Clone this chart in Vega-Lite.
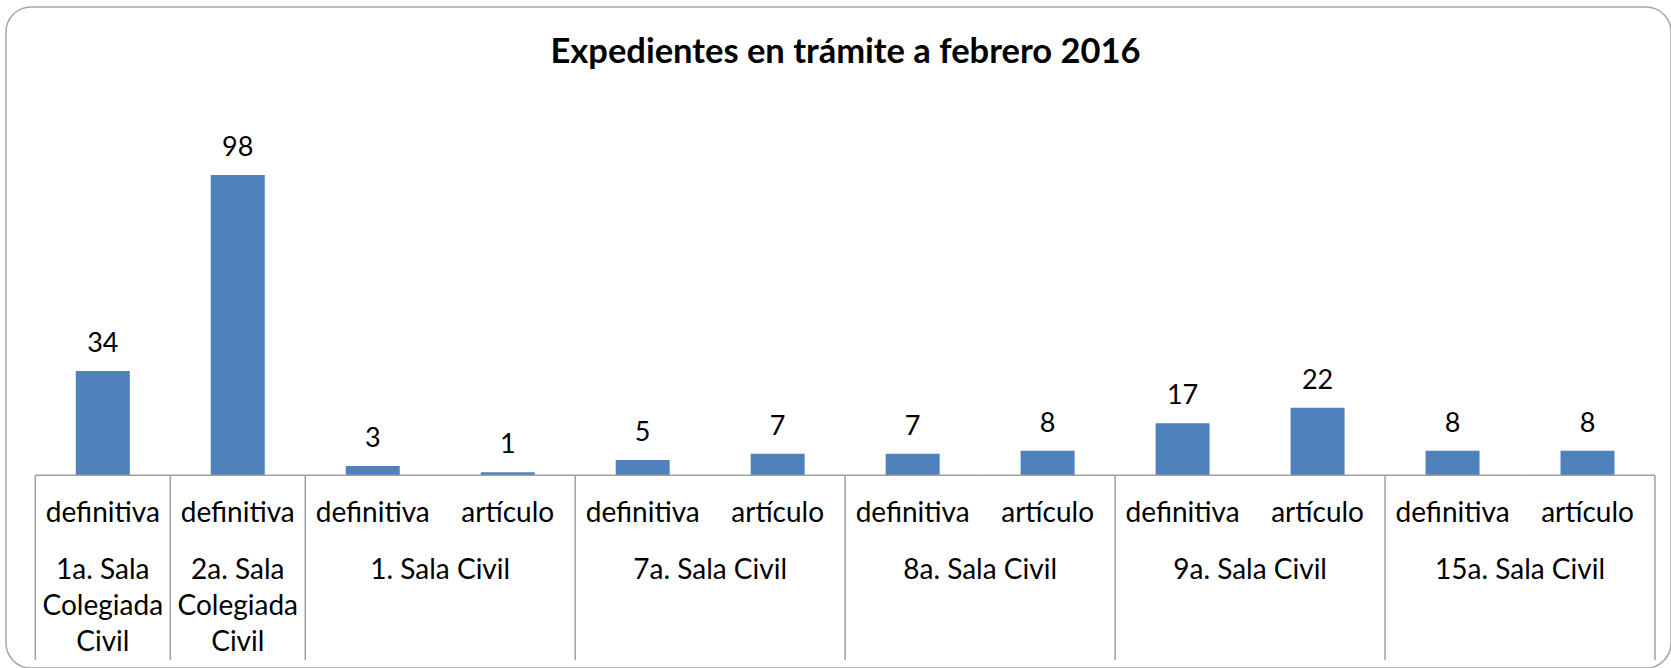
{
  "$schema": "https://vega.github.io/schema/vega-lite/v6.json",
  "width": 1665,
  "height": 661,
  "autosize": {"type": "none"},
  "padding": {"left": 6, "top": 7, "right": 0, "bottom": 0},
  "background": "white",
  "title": {
    "text": "Expedientes en trámite a febrero 2016",
    "anchor": "middle",
    "frame": "group",
    "font": "Lato",
    "fontSize": 34.5,
    "fontWeight": "bold",
    "color": "#000000",
    "baseline": "alphabetic",
    "offset": -90,
    "dx": 7
  },
  "config": {
    "view": {"stroke": "#A6A6A6", "strokeWidth": 1.5, "cornerRadius": 25},
    "text": {"font": "Lato", "fontSize": 28, "color": "#000000"}
  },
  "datasets": {
    "bars": [
      {"id": "c01", "tipo": "definitiva", "sala": "1a. Sala Colegiada Civil", "value": 34},
      {"id": "c02", "tipo": "definitiva", "sala": "2a. Sala Colegiada Civil", "value": 98},
      {"id": "c03", "tipo": "definitiva", "sala": "1. Sala Civil", "value": 3},
      {"id": "c04", "tipo": "artículo", "sala": "1. Sala Civil", "value": 1},
      {"id": "c05", "tipo": "definitiva", "sala": "7a. Sala Civil", "value": 5},
      {"id": "c06", "tipo": "artículo", "sala": "7a. Sala Civil", "value": 7},
      {"id": "c07", "tipo": "definitiva", "sala": "8a. Sala Civil", "value": 7},
      {"id": "c08", "tipo": "artículo", "sala": "8a. Sala Civil", "value": 8},
      {"id": "c09", "tipo": "definitiva", "sala": "9a. Sala Civil", "value": 17},
      {"id": "c10", "tipo": "artículo", "sala": "9a. Sala Civil", "value": 22},
      {"id": "c11", "tipo": "definitiva", "sala": "15a. Sala Civil", "value": 8},
      {"id": "c12", "tipo": "artículo", "sala": "15a. Sala Civil", "value": 8}
    ],
    "groups": [
      {"label": "1a. Sala\nColegiada\nCivil", "first": "c01", "last": "c01", "n": 1},
      {"label": "2a. Sala\nColegiada\nCivil", "first": "c02", "last": "c02", "n": 1},
      {"label": "1. Sala Civil", "first": "c03", "last": "c04", "n": 2},
      {"label": "7a. Sala Civil", "first": "c05", "last": "c06", "n": 2},
      {"label": "8a. Sala Civil", "first": "c07", "last": "c08", "n": 2},
      {"label": "9a. Sala Civil", "first": "c09", "last": "c10", "n": 2},
      {"label": "15a. Sala Civil", "first": "c11", "last": "c12", "n": 2}
    ]
  },
  "resolve": {"scale": {"x": "shared", "y": "shared"}},
  "layer": [
    {
      "data": {"name": "bars"},
      "mark": {"type": "bar", "color": "#4F81BD", "width": {"band": 0.4}},
      "encoding": {
        "x": {"field": "id", "type": "nominal", "axis": null, "sort": null,
              "scale": {"domain": ["c01","c02","c03","c04","c05","c06","c07","c08","c09","c10","c11","c12"], "paddingInner": 0, "paddingOuter": 0.1678, "align": 0.647}},
        "y": {"field": "value", "type": "quantitative", "axis": null,
              "scale": {"domain": [-62.9, 152.8], "nice": false, "zero": false}}
      }
    },
    {
      "data": {"name": "bars"},
      "mark": {"type": "text", "baseline": "alphabetic", "dy": -19, "fontSize": 27},
      "encoding": {
        "x": {"field": "id", "type": "nominal"},
        "y": {"field": "value", "type": "quantitative"},
        "text": {"field": "value", "type": "quantitative"}
      }
    },
    {
      "data": {"name": "bars"},
      "mark": {"type": "rect", "fill": null, "fillOpacity": 0, "stroke": "#A0A0A0", "strokeWidth": 1.5},
      "encoding": {
        "x": {"field": "id", "type": "nominal"},
        "y": {"datum": 0},
        "y2": {"datum": 0}
      }
    },
    {
      "data": {"name": "groups"},
      "mark": {"type": "rule", "stroke": "#A0A0A0", "strokeWidth": 1.5},
      "encoding": {
        "x": {"field": "first", "type": "nominal", "bandPosition": 0},
        "y": {"datum": 0},
        "y2": {"datum": -60.3}
      }
    },
    {
      "data": {"name": "groups"},
      "transform": [{"filter": "datum.last === 'c12'"}],
      "mark": {"type": "rule", "stroke": "#A0A0A0", "strokeWidth": 1.5},
      "encoding": {
        "x": {"field": "last", "type": "nominal", "bandPosition": 1},
        "y": {"datum": 0},
        "y2": {"datum": -60.3}
      }
    },
    {
      "data": {"name": "bars"},
      "mark": {"type": "text", "baseline": "alphabetic", "dy": 47},
      "encoding": {
        "x": {"field": "id", "type": "nominal"},
        "y": {"datum": 0},
        "text": {"field": "tipo", "type": "nominal"}
      }
    },
    {
      "data": {"name": "groups"},
      "transform": [{"filter": "datum.n === 2"}],
      "mark": {"type": "text", "baseline": "alphabetic", "dy": 104},
      "encoding": {
        "x": {"field": "first", "type": "nominal", "bandPosition": 1},
        "y": {"datum": 0},
        "text": {"field": "label", "type": "nominal"}
      }
    },
    {
      "data": {"name": "groups"},
      "transform": [{"filter": "datum.n === 1"}],
      "mark": {"type": "text", "baseline": "alphabetic", "dy": 104, "lineBreak": "\n", "lineHeight": 36},
      "encoding": {
        "x": {"field": "first", "type": "nominal", "bandPosition": 0.5},
        "y": {"datum": 0},
        "text": {"field": "label", "type": "nominal"}
      }
    }
  ]
}
